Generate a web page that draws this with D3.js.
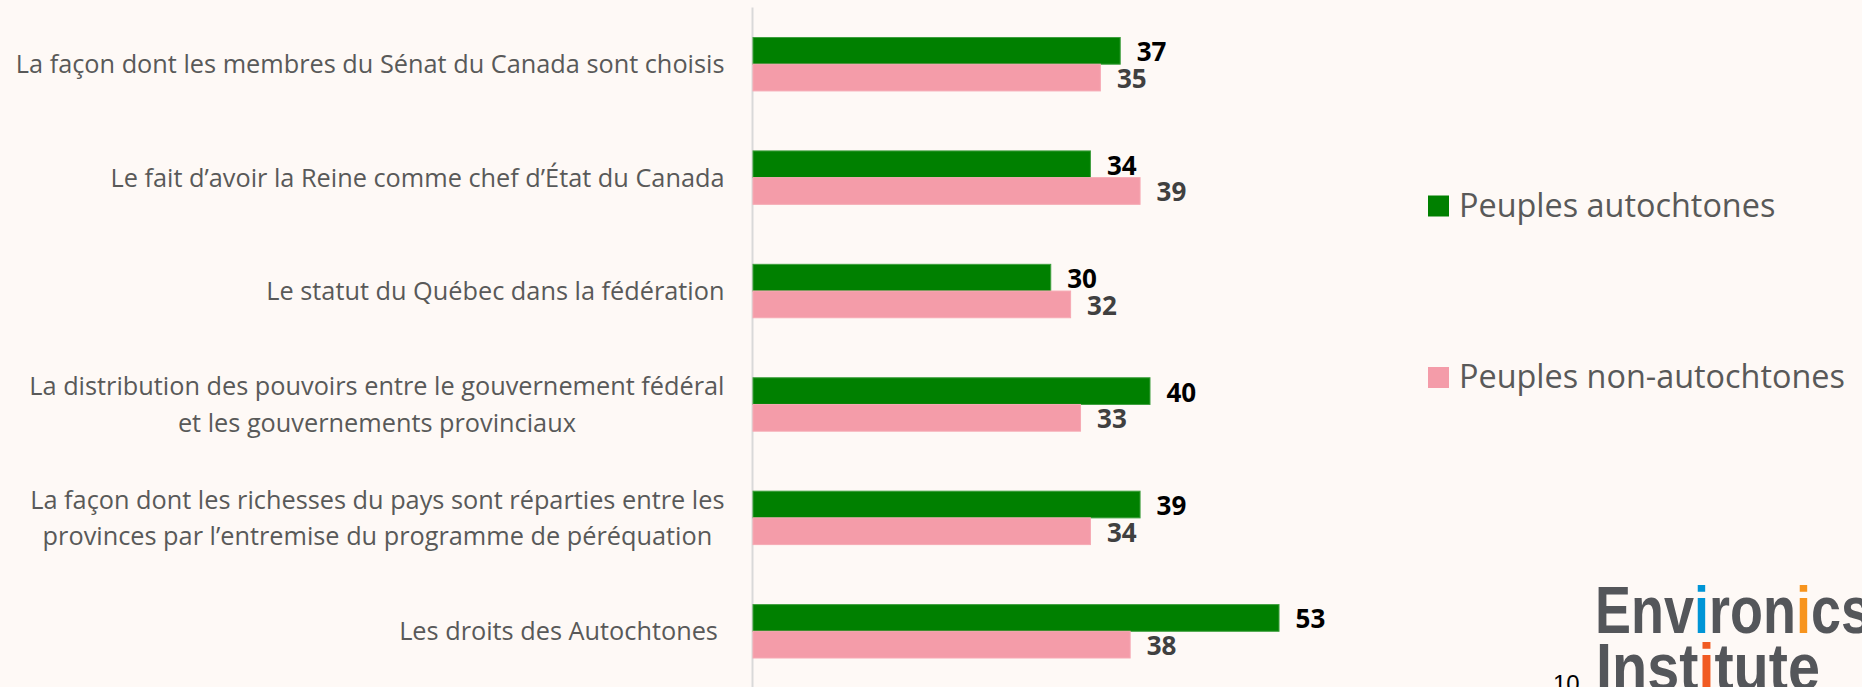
<!DOCTYPE html>
<html>
<head>
<meta charset="utf-8">
<script src="https://cdn.jsdelivr.net/npm/d3@7"></script>
<style>
  html, body { margin: 0; padding: 0; background: #fef9f6; }
  svg { display: block; }
</style>
</head>
<body>
<svg id="chart" width="1862" height="687"></svg>
<script>
// ---- data ----
const categories = [
  ["La façon dont les membres du Sénat du Canada sont choisis"],
  ["Le fait d’avoir la Reine comme chef d’État du Canada"],
  ["Le statut du Québec dans la fédération"],
  ["La distribution des pouvoirs entre le gouvernement fédéral", "et les gouvernements provinciaux"],
  ["La façon dont les richesses du pays sont réparties entre les", "provinces par l’entremise du programme de péréquation"],
  ["Les droits des Autochtones "]
];
const seriesNames = ["Peuples autochtones", "Peuples non-autochtones"];
const autochtones = [37, 34, 30, 40, 39, 53];
const nonAutochtones = [35, 39, 32, 33, 34, 38];
const pageNumber = "10";

// ---- styles ----
const colors = ["#008000", "#f49ca9"];
const strokes = ["#3f9f3f", "#f6aab4"];
const labelColors = ["#000000", "#404040"];

const svg = d3.select("#chart");
svg.append("rect").attr("width", 1862).attr("height", 687).attr("fill", "#fef9f6");

const keys = categories.map((c, i) => "c" + i);
const x = d3.scaleLinear().domain([0, 60]).range([753, 753 + 595.5]);
const y = d3.scaleBand().domain(keys).range([7.5, 688]).paddingInner(0.529).paddingOuter(0.2645);
const ySub = d3.scaleBand().domain([0, 1]).range([0, y.bandwidth()]);

const data = keys.map((k, i) => ({ key: k, values: [autochtones[i], nonAutochtones[i]] }));

// axis
const axis = d3.axisLeft(y).tickSizeInner(0).tickSizeOuter(0).tickPadding(28).tickFormat("");
const gAxis = svg.append("g").attr("transform", `translate(${x(0) - 0.5},0)`).call(axis);
gAxis.select(".domain").attr("stroke", "#d9d9d9").attr("stroke-width", 2).attr("d", `M0,7.5V687`);

// category labels (multi-line, lines centered within block, block right-aligned)
const fontLab = 25.3, lineH = 36.7, capHalf = 9.1;
gAxis.selectAll(".tick").each(function (k, i) {
  const g = d3.select(this);
  g.select("text").remove();
  const lines = categories[i];
  const t = g.append("text")
    .attr("font-family", "'Open Sans', sans-serif")
    .attr("font-size", fontLab)
    .attr("fill", "#595959")
    .attr("text-anchor", "middle")
    .style("white-space", "pre");
  const spans = lines.map((ln, j) =>
    t.append("tspan").text(ln)
      .attr("y", (j - (lines.length - 1) / 2) * lineH + capHalf)
  );
  const maxW = d3.max(spans, s => s.node().getComputedTextLength());
  spans.forEach(s => s.attr("x", -28 - maxW / 2));
});

// bars
const groups = svg.append("g").selectAll("g").data(data).join("g")
  .attr("transform", d => `translate(0,${y(d.key)})`);

groups.selectAll("rect").data(d => d.values).join("rect")
  .attr("x", x(0))
  .attr("y", (v, j) => ySub(j))
  .attr("width", v => x(v) - x(0))
  .attr("height", ySub.bandwidth())
  .attr("fill", (v, j) => colors[j])
  .attr("stroke", (v, j) => strokes[j])
  .attr("stroke-width", 1);

groups.selectAll("text").data(d => d.values).join("text")
  .attr("x", v => x(v) + 16.5)
  .attr("y", (v, j) => ySub(j) + ySub.bandwidth() / 2 + 10.5)
  .attr("font-family", "'Open Sans', sans-serif")
  .attr("font-weight", 700)
  .attr("font-size", 26)
  .attr("fill", (v, j) => labelColors[j])
  .text(v => v);

// legend
const legend = svg.append("g").selectAll("g").data(seriesNames).join("g")
  .attr("transform", (d, i) => `translate(1428,${195.5 + i * 171.5})`);
legend.append("rect").attr("width", 21).attr("height", 21).attr("fill", (d, i) => colors[i]);
legend.append("text")
  .attr("x", 31).attr("y", 21)
  .attr("font-family", "'Open Sans', sans-serif")
  .attr("font-size", 32.4)
  .attr("fill", "#595959")
  .text(d => d);

// page number
svg.append("text").attr("x", 1553).attr("y", 692)
  .attr("font-family", "'Liberation Sans', Arial, sans-serif")
  .attr("font-size", 24).attr("fill", "#000").text(pageNumber);

// logo
const logoGray = "#54565a";
function logoLine(parts, xPos, yPos, targetW) {
  const t = svg.append("text")
    .attr("font-family", "'Liberation Sans', Arial, sans-serif")
    .attr("font-weight", 700)
    .attr("font-size", 67);
  parts.forEach(p => t.append("tspan").text(p[0]).attr("fill", p[1]));
  const w = t.node().getComputedTextLength();
  t.attr("transform", `translate(${xPos},${yPos}) scale(${targetW / w},1)`);
}
logoLine([["Env", logoGray], ["i", "#0095d6"], ["ron", logoGray], ["i", "#f7941e"], ["cs", logoGray]], 1595, 633, 276);
logoLine([["Inst", logoGray], ["i", "#f15a22"], ["tute", logoGray]], 1596, 690, 224);
</script>
</body>
</html>
